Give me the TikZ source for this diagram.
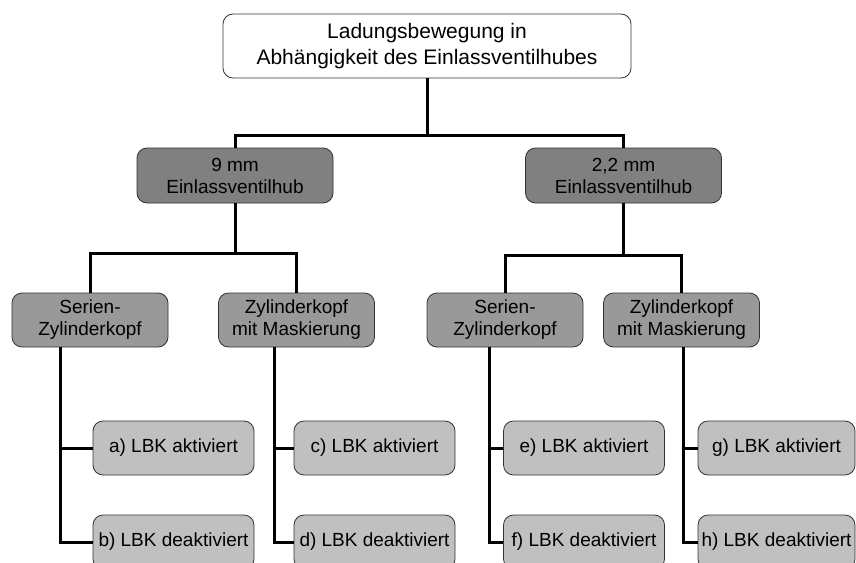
\documentclass[tikz,border=0pt]{standalone}
\usepackage{fontspec}
\setmainfont{Liberation Sans}
\definecolor{lvtwo}{HTML}{808080}
\definecolor{lvthree}{HTML}{999999}
\definecolor{lvfour}{HTML}{C0C0C0}
\definecolor{bord}{HTML}{333333}
\begin{document}
\begin{tikzpicture}[x=1pt,y=-1pt,
  box/.style={draw=bord,line width=0.8pt,rounded corners=10pt,align=center,inner sep=0pt,
    font=\fontsize{19}{22}\selectfont},
  topbox/.style={box,fill=white,minimum width=408pt,minimum height=64pt,font=\fontsize{21}{26}\selectfont},
  boxtwo/.style={box,fill=lvtwo,minimum width=196pt,minimum height=55pt},
  boxthree/.style={box,fill=lvthree,minimum width=156pt,minimum height=54pt},
  boxfour/.style={box,fill=lvfour,minimum width=161pt,minimum height=54pt},
  conn/.style={draw=black,line width=3pt}]
\useasboundingbox (0,0) rectangle (856,562);
\clip (0,0) rectangle (856,562);
\fill[white] (0,0) rectangle (856,562);
% connectors first (drawn below nodes)
\coordinate (tb) at (427,78);
\coordinate (hA) at (235,203);
\coordinate (hB) at (623.5,203);
\coordinate (sA) at (60,347);
\coordinate (sB) at (274,347);
\coordinate (sC) at (489,347);
\coordinate (sD) at (683,347);
% nodes
\node[topbox] (top) at (427,46) {Ladungsbewegung in\\Abhängigkeit des Einlassventilhubes};
\node[boxtwo] (nA) at (235,175.5) {9 mm\\Einlassventilhub};
\node[boxtwo] (nB) at (623.5,175.5) {2,2 mm\\Einlassventilhub};
\node[boxthree] (mA) at (90,320) {Serien-\\Zylinderkopf};
\node[boxthree] (mB) at (296.5,320) {Zylinderkopf\\mit Maskierung};
\node[boxthree] (mC) at (505,320) {Serien-\\Zylinderkopf};
\node[boxthree] (mD) at (681.5,320) {Zylinderkopf\\mit Maskierung};
\node[boxfour] (la) at (173.5,448) {a) LBK aktiviert};
\node[boxfour] (lb) at (173.5,542) {b) LBK deaktiviert};
\node[boxfour] (lc) at (374.5,448) {c) LBK aktiviert};
\node[boxfour] (ld) at (374.5,542) {d) LBK deaktiviert};
\node[boxfour] (le) at (584,448) {e) LBK aktiviert};
\node[boxfour] (lf) at (584,542) {f) LBK deaktiviert};
\node[boxfour,minimum width=157pt] (lg) at (776.5,448) {g) LBK aktiviert};
\node[boxfour,minimum width=157pt] (lh) at (776.5,542) {h) LBK deaktiviert};
% connectors
\draw[conn] (top.south) -- (427,135) -| (nA.north);
\draw[conn] (427,135) -| (nB.north);
\draw[conn] (nA.south) -- (235,253) -| (mA.north);
\draw[conn] (235,253) -| (mB.north);
\draw[conn] (nB.south) -- (623.5,255) -| (mC.north);
\draw[conn] (623.5,255) -| (mD.north);
\draw[conn] (sA) |- (lb.west);
\draw[conn] (sA |- la.west) -- (la.west);
\draw[conn] (sB) |- (ld.west);
\draw[conn] (sB |- lc.west) -- (lc.west);
\draw[conn] (sC) |- (lf.west);
\draw[conn] (sC |- le.west) -- (le.west);
\draw[conn] (sD) |- (lh.west);
\draw[conn] (sD |- lg.west) -- (lg.west);
\end{tikzpicture}
\end{document}
